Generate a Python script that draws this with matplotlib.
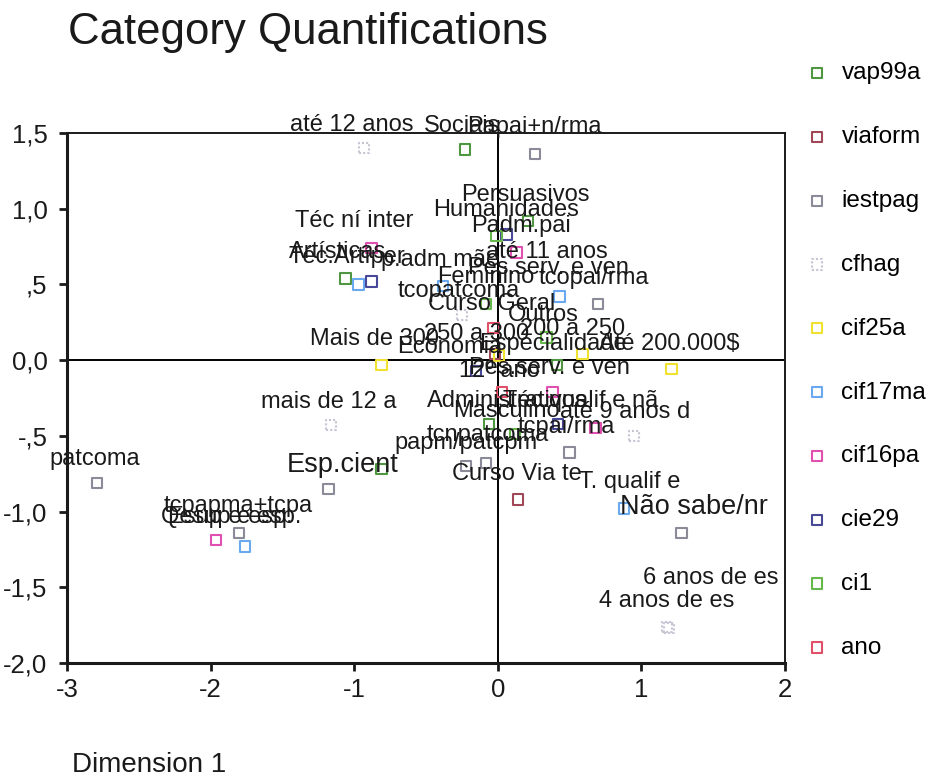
import matplotlib
matplotlib.use("Agg")
import matplotlib.pyplot as plt
from matplotlib.ticker import FixedLocator, FixedFormatter

plt.rcParams["font.family"] = ["Liberation Sans", "DejaVu Sans"]

# --- category quantifications (dimension 1, dimension 2) per variable ---
vap99a_cats = ["Sociais", "Persuasivos", "Artísticas", "Pes.serv. e ven", "Administrativos", "Esp.cient"]
vap99a_d1 = [-0.23, 0.21, -1.06, 0.41, -0.06, -0.81]
vap99a_d2 = [1.39, 0.92, 0.54, -0.03, -0.42, -0.72]

viaform_cats = ["Economia", "Curso Via te"]
viaform_d1 = [-0.02, 0.14]
viaform_d2 = [0.04, -0.92]

iestpag_cats = ["Papai+n/rma", "Pes.serv. e ven", "", "papm/patcpm", "tcnpatcoma",
                "Não sabe/nr", "", "patcoma", "tcpapma+tcpa"]
iestpag_d1 = [0.26, 0.70, 0.50, -0.22, -0.08, 1.28, -1.18, -2.79, -1.80]
iestpag_d2 = [1.36, 0.37, -0.61, -0.70, -0.68, -1.14, -0.85, -0.81, -1.14]

cfhag_cats = ["até 12 anos", "Outros", "até 9 anos d", "4 anos de es", "mais de 12 a", "6 anos de es"]
cfhag_d1 = [-0.93, -0.25, 0.95, 1.18, -1.16, 1.19]
cfhag_d2 = [1.40, 0.30, -0.50, -1.76, -0.43, -1.77]

cif25a_cats = ["250 a 300", "Mais de 300", "200 a 250", "Até 200.000$"]
cif25a_d1 = [0.01, -0.81, 0.59, 1.21]
cif25a_d2 = [0.03, -0.03, 0.04, -0.06]

cif17ma_cats = ["Téc.Artíper", "tcopatcoma", "tcopai/rma", "T. qualif e", "Esup e esp."]
cif17ma_d1 = [-0.97, -0.38, 0.43, 0.88, -1.76]
cif17ma_d2 = [0.50, 0.49, 0.42, -0.98, -1.23]

cif16pa_cats = ["Téc ní inter", "até 11 anos", "Téc.qualif e nã", "", "Qesup e esp."]
cif16pa_d1 = [-0.88, 0.13, 0.38, 0.68, -1.96]
cif16pa_d2 = [0.74, 0.71, -0.21, -0.45, -1.19]

cie29_cats = ["Padm.pai", "p.adm mãe", "12º ano", "tcpai/rma"]
cie29_d1 = [0.06, -0.88, -0.15, 0.42]
cie29_d2 = [0.83, 0.52, -0.07, -0.42]

ci1_cats = ["Humanidades", "Curso Geral", "Masculino", "Especialidade"]
ci1_d1 = [-0.01, -0.08, 0.12, 0.34]
ci1_d2 = [0.82, 0.37, -0.49, 0.15]

ano_cats = ["Feminino", ""]
ano_d1 = [-0.03, 0.03]
ano_d2 = [0.21, -0.21]

variables = [
    ("vap99a", vap99a_cats, vap99a_d1, vap99a_d2),
    ("viaform", viaform_cats, viaform_d1, viaform_d2),
    ("iestpag", iestpag_cats, iestpag_d1, iestpag_d2),
    ("cfhag", cfhag_cats, cfhag_d1, cfhag_d2),
    ("cif25a", cif25a_cats, cif25a_d1, cif25a_d2),
    ("cif17ma", cif17ma_cats, cif17ma_d1, cif17ma_d2),
    ("cif16pa", cif16pa_cats, cif16pa_d1, cif16pa_d2),
    ("cie29", cie29_cats, cie29_d1, cie29_d2),
    ("ci1", ci1_cats, ci1_d1, ci1_d2),
    ("ano", ano_cats, ano_d1, ano_d2),
]

# marker styles
colors = {
    "vap99a": "#4f9640", "viaform": "#a04858", "iestpag": "#8a8a98",
    "cfhag": "#c4c4d4", "cif25a": "#f0e030", "cif17ma": "#6aa8f0",
    "cif16pa": "#e050b0", "cie29": "#484898", "ci1": "#66b84a", "ano": "#e05068",
}

# label placement (pixels from the point, y up)
label_offsets = {
    "vap99a": [(-3, 24), (-3, 26), (-8, 26), (-7, -3), (18, 23), (-39, 4)],
    "viaform": [(-45, 7), (-1, 25)],
    "iestpag": [(-1, 27), (-50, 36), (0, 0), (0, 23), (1, 28), (12, 26), (0, 0), (-2, 24), (-1, 27)],
    "cfhag": [(-13, 23), (81, 0), (-9, 24), (-1, 26), (-2, 23), (42, 50)],
    "cif25a": [(-23, 22), (-7, 26), (-10, 25), (-2, 25)],
    "cif17ma": [(-12, 27), (16, -5), (34, 19), (6, 27), (-15, 29)],
    "cif16pa": [(-17, 27), (30, 1), (28, -9), (0, 0), (15, 23)],
    "cie29": [(15, 8), (69, 21), (23, 0), (8, -3)],
    "ci1": [(10, 26), (5, 0), (-9, 23), (6, -7)],
    "ano": [(-8, 51), (0, 0)],
}
big_labels = {"Esp.cient", "Não sabe/nr"}

fig = plt.figure(figsize=(9.33, 7.80), dpi=100)
ax = fig.add_axes([0.0718, 0.15, 0.7696, 0.6795])

ax.axhline(0, color="black", lw=1.4, zorder=1)
ax.axvline(0, color="black", lw=1.4, zorder=1)

handles = []
for name, cats, d1, d2 in variables:
    ls = (0, (1, 1)) if name == "cfhag" else "solid"
    sc = ax.scatter(d1, d2, s=55, marker="s", facecolors="none",
                    edgecolors=colors[name], linewidths=1.5, linestyles=ls,
                    label=name, zorder=3)
    handles.append(sc)
    for cat, x, y, off in zip(cats, d1, d2, label_offsets[name]):
        if not cat:
            continue
        ax.annotate(cat, (x, y), xytext=off, textcoords="offset pixels",
                    ha="center", va="center", color="#1a1a1a",
                    fontsize=19.5 if cat in big_labels else 17, zorder=4)

ax.set_xlim(-3, 2)
ax.set_ylim(-2, 1.5)

xticks = [-3, -2, -1, 0, 1, 2]
yticks = [-2.0, -1.5, -1.0, -0.5, 0.0, 0.5, 1.0, 1.5]
ytick_labels = ["-2,0", "-1,5", "-1,0", "-,5", "0,0", ",5", "1,0", "1,5"]
ax.xaxis.set_major_locator(FixedLocator(xticks))
ax.xaxis.set_major_formatter(FixedFormatter([str(t) for t in xticks]))
ax.yaxis.set_major_locator(FixedLocator(yticks))
ax.yaxis.set_major_formatter(FixedFormatter(ytick_labels))
ax.tick_params(direction="out", length=6, width=2, labelsize=18.5, colors="#1a1a1a", pad=5)
ax.tick_params(axis="y", pad=8)

for side in ["left", "bottom"]:
    ax.spines[side].set_linewidth(2.2)
for side in ["top", "right"]:
    ax.spines[side].set_linewidth(1.4)
for sp in ax.spines.values():
    sp.set_color("#1a1a1a")

fig.text(0.073, 0.958, "Category Quantifications", fontsize=31.5, color="#1a1a1a",
         ha="left", va="center")
fig.text(0.077, 0.003, "Dimension 1", fontsize=20, color="#1a1a1a",
         ha="left", va="bottom")

fig.legend(handles=handles, loc="upper left", bbox_to_anchor=(0.868, 0.920),
           frameon=False, fontsize=17.5, scatterpoints=1, handlelength=0.6,
           handletextpad=0.7, labelspacing=1.72, borderpad=0, borderaxespad=0)

fig.savefig("out.png", dpi=100)
